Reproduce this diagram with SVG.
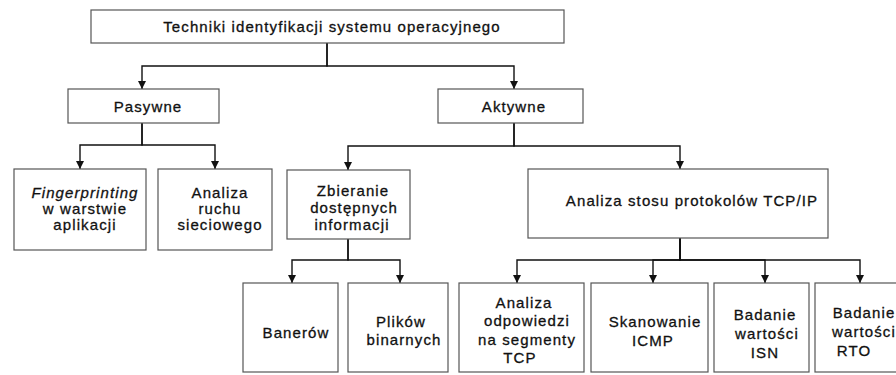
<svg xmlns="http://www.w3.org/2000/svg" width="896" height="375" viewBox="0 0 896 375">
  <style>
    .box { fill: #ffffff; stroke: #555555; stroke-width: 1.2; }
    .lbl { font-family: "Liberation Sans", Arial, sans-serif; font-size: 15px; letter-spacing: 1.1px; fill: #111111; stroke: #111111; stroke-width: 0.3; text-anchor: middle; }
    .it { font-style: italic; }
    .edge { fill: none; stroke: #111111; stroke-width: 1.4; marker-end: url(#arrow); }
  </style>
  <defs>
    <marker id="arrow" viewBox="0 0 10 10" refX="10" refY="5" markerWidth="9" markerHeight="8" markerUnits="userSpaceOnUse" orient="auto">
      <path d="M0,0 L10,5 L0,10 z" fill="#111111"/>
    </marker>
  </defs>
  <rect width="896" height="375" fill="#ffffff"/>

  <!-- connectors -->
  <g id="connectors">
    <path class="edge" d="M327,43 V66 H142 V89"/>
    <path class="edge" d="M327,43 V66 H514 V89"/>
    <path class="edge" d="M142,123 V145 H80 V169"/>
    <path class="edge" d="M142,123 V145 H215 V169"/>
    <path class="edge" d="M514,123 V146 H348 V170"/>
    <path class="edge" d="M514,123 V146 H680 V169"/>
    <path class="edge" d="M348,239 V260 H292 V283"/>
    <path class="edge" d="M348,239 V260 H400 V283"/>
    <path class="edge" d="M680,238 V260 H517 V283"/>
    <path class="edge" d="M680,238 V260 H653 V283"/>
    <path class="edge" d="M680,238 V260 H765 V283"/>
    <path class="edge" d="M680,238 V260 H860 V283"/>
  </g>

  <!-- root -->
  <g id="root">
    <rect class="box" x="91" y="10" width="473" height="33"/>
    <text class="lbl" x="332" y="32">Techniki identyfikacji systemu operacyjnego</text>
  </g>

  <!-- level 1 -->
  <g id="pasywne">
    <rect class="box" x="68" y="89" width="151" height="34"/>
    <text class="lbl" x="148" y="112">Pasywne</text>
  </g>
  <g id="aktywne">
    <rect class="box" x="438" y="89" width="145" height="34"/>
    <text class="lbl" x="514" y="112">Aktywne</text>
  </g>

  <!-- passive techniques -->
  <g id="fingerprinting">
    <rect class="box" x="14" y="169" width="132" height="81"/>
    <text class="lbl" x="85" y="198"><tspan class="it">Fingerprinting</tspan><tspan x="85" dy="16">w warstwie</tspan><tspan x="85" dy="16">aplikacji</tspan></text>
  </g>
  <g id="analiza-ruchu">
    <rect class="box" x="158" y="169" width="114" height="81"/>
    <text class="lbl" x="220" y="198">Analiza<tspan x="220" dy="16">ruchu</tspan><tspan x="220" dy="16">sieciowego</tspan></text>
  </g>

  <!-- active techniques -->
  <g id="zbieranie">
    <rect class="box" x="287" y="170" width="123" height="69"/>
    <text class="lbl" x="353" y="196">Zbieranie<tspan x="354" dy="17">dostępnych</tspan><tspan x="352" dy="17">informacji</tspan></text>
  </g>
  <g id="analiza-stosu">
    <rect class="box" x="528" y="169" width="300" height="69"/>
    <text class="lbl" x="692" y="206">Analiza stosu protokolów TCP/IP</text>
  </g>

  <!-- information gathering -->
  <g id="banerow">
    <rect class="box" x="243" y="283" width="95" height="89"/>
    <text class="lbl" x="296" y="338">Banerów</text>
  </g>
  <g id="plikow">
    <rect class="box" x="348" y="283" width="100" height="89"/>
    <text class="lbl" x="401" y="327">Plików<tspan x="404" dy="18">binarnych</tspan></text>
  </g>

  <!-- TCP/IP stack analysis -->
  <g id="analiza-odpowiedzi">
    <rect class="box" x="459" y="283" width="125" height="89"/>
    <text class="lbl" x="524" y="308">Analiza<tspan x="527" dy="18.3">odpowiedzi</tspan><tspan x="527" dy="18.3">na segmenty</tspan><tspan x="520" dy="18.3">TCP</tspan></text>
  </g>
  <g id="skanowanie">
    <rect class="box" x="591" y="283" width="117" height="89"/>
    <text class="lbl" x="655" y="327">Skanowanie<tspan x="653" dy="19">ICMP</tspan></text>
  </g>
  <g id="isn">
    <rect class="box" x="714" y="283" width="95" height="89"/>
    <text class="lbl" x="765" y="320">Badanie<tspan x="767" dy="19">wartości</tspan><tspan x="765" dy="19">ISN</tspan></text>
  </g>
  <g id="rto">
    <rect class="box" x="815" y="283" width="90" height="89"/>
    <text class="lbl" x="864" y="318">Badanie<tspan x="864" dy="19">wartości</tspan><tspan x="854" dy="19">RTO</tspan></text>
  </g>
</svg>
